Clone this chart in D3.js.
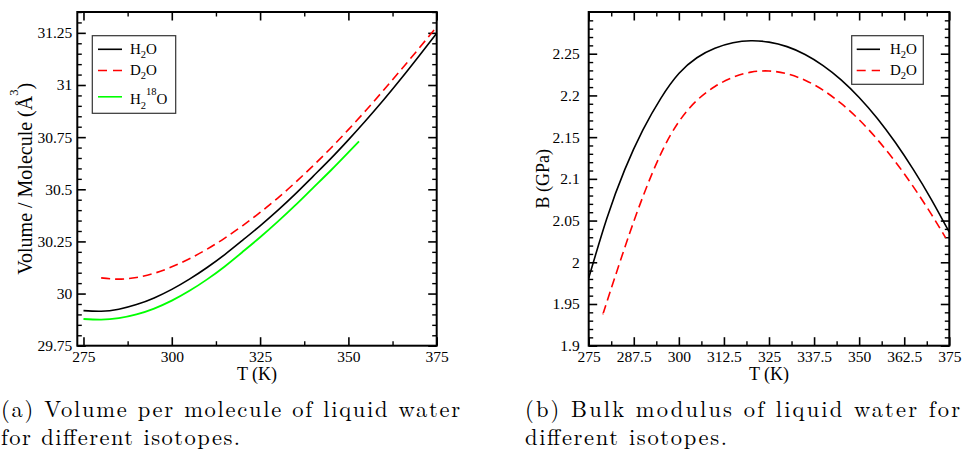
<!DOCTYPE html>
<html>
<head>
<meta charset="utf-8">
<script src="https://cdn.jsdelivr.net/npm/d3@7"></script>
<style>
  body { margin: 0; background: #fff; }
  svg { display: block; }
</style>
</head>
<body>
<svg id="fig" width="962" height="453"></svg>
<script>
// ---------- Panel (a): volume per molecule vs temperature ----------
const tempH2O_a = [275, 280, 285, 290, 295, 300, 305, 310, 315, 320, 325, 330, 335, 340, 345, 350, 355, 360, 365, 370, 375];
const volumeH2O = [29.918, 29.915, 29.925, 29.947, 29.979, 30.020, 30.069, 30.125, 30.187, 30.255, 30.325, 30.399, 30.478, 30.562, 30.647, 30.737, 30.831, 30.929, 31.032, 31.139, 31.248];

const tempD2O_a = [280, 285, 290, 295, 300, 305, 310, 315, 320, 325, 330, 335, 340, 345, 350, 355, 360, 365, 370, 375];
const volumeD2O = [30.075, 30.069, 30.077, 30.097, 30.128, 30.167, 30.213, 30.266, 30.325, 30.389, 30.458, 30.533, 30.613, 30.697, 30.786, 30.879, 30.976, 31.075, 31.176, 31.279];

const tempH218O = [275, 280, 285, 290, 295, 300, 305, 310, 315, 320, 325, 330, 335, 340, 345, 350, 353];
const volumeH218O = [29.878, 29.875, 29.882, 29.900, 29.928, 29.966, 30.013, 30.068, 30.130, 30.199, 30.270, 30.345, 30.424, 30.507, 30.590, 30.677, 30.730];

const xTicksA = [275, 300, 325, 350, 375];
const yTicksA = [29.75, 30, 30.25, 30.5, 30.75, 31, 31.25];

// ---------- Panel (b): bulk modulus vs temperature ----------
const tempH2O_b = [275, 280, 285, 290, 295, 300, 305, 310, 315, 320, 325, 330, 335, 340, 345, 350, 355, 360, 365, 370, 375];
const bulkH2O = [1.9810, 2.0522, 2.1110, 2.1583, 2.1965, 2.2262, 2.2452, 2.2565, 2.2631, 2.2655, 2.2639, 2.2585, 2.2491, 2.2358, 2.2187, 2.1976, 2.1727, 2.1438, 2.1113, 2.0755, 2.0360];

const tempD2O_b = [279, 280, 285, 290, 295, 300, 305, 310, 315, 320, 325, 330, 335, 340, 345, 350, 355, 360, 365, 370, 374];
const bulkD2O = [1.9383, 1.9519, 2.0176, 2.0783, 2.1300, 2.1685, 2.1940, 2.2107, 2.2217, 2.2279, 2.2293, 2.2259, 2.2182, 2.2063, 2.1904, 2.1708, 2.1474, 2.1207, 2.0907, 2.0577, 2.0292];

const xTicksB = [275, 287.5, 300, 312.5, 325, 337.5, 350, 362.5, 375];
const yTicksB = [1.9, 1.95, 2, 2.05, 2.1, 2.15, 2.2, 2.25];

// Legend entries: segments with optional sub/superscript
const legendA = [
  { segs: [["H"], ["2", "sub"], ["O"]], color: "#000000", dash: null },
  { segs: [["D"], ["2", "sub"], ["O"]], color: "#ff0000", dash: "9,6" },
  { segs: [["H"], ["2", "sub"], ["18", "sup"], ["O"]], color: "#00ff00", dash: null }
];
const legendB = [
  { segs: [["H"], ["2", "sub"], ["O"]], color: "#000000", dash: null },
  { segs: [["D"], ["2", "sub"], ["O"]], color: "#ff0000", dash: "9,6" }
];

const captionA = ["(a) Volume per molecule of liquid water", "for different isotopes."];
const captionB = ["(b) Bulk modulus of liquid water for", "different isotopes."];

const PLOT_FONT = '"Liberation Serif", "Nimbus Roman", "TeX Gyre Termes"';
const CAPTION_FONT = '"Latin Modern Roman", "CMU Serif", "Liberation Serif"';

const svg = d3.select("#fig");

// minor tick positions, skipping the major ones
function minorTicks(lo, hi, step, majorStep) {
  const out = [];
  const n = Math.round((hi - lo) / step);
  for (let i = 0; i <= n; i++) {
    const v = +(lo + i * step).toFixed(6);
    const r = v / majorStep;
    if (Math.abs(r - Math.round(r)) > 1e-6) out.push(v);
  }
  return out;
}

// text with subscript / superscript pieces
function writeRich(textSel, segs, base) {
  let shift = 0;
  segs.forEach(([t, kind]) => {
    const target = kind === "sub" ? base * 0.3 : kind === "sup" ? -base * 0.6 : 0;
    const ts = textSel.append("tspan").text(t).attr("dy", target - shift);
    if (kind) ts.style("font-size", (base * 0.7) + "px");
    shift = target;
  });
}

function panel(o) {
  const g = svg.append("g");
  const x = d3.scaleLinear().domain(o.xDomain).range([o.left, o.right]);
  const y = d3.scaleLinear().domain(o.yDomain).range([o.bottom, o.top]);
  const fmt = d => String(d);

  const axes = [
    [d3.axisBottom(x), o.xMajor, `translate(0,${o.bottom})`, true, o.xPad],
    [d3.axisTop(x), o.xMajor, `translate(0,${o.top})`, false, 0],
    [d3.axisLeft(y), o.yMajor, `translate(${o.left},0)`, true, o.yPad],
    [d3.axisRight(y), o.yMajor, `translate(${o.right},0)`, false, 0]
  ];
  axes.forEach(([ax, vals, tr, labels, pad]) => {
    const a = ax.tickValues(vals).tickSizeInner(-8.5).tickSizeOuter(0).tickPadding(pad)
      .tickFormat(labels ? fmt : "");
    const sel = g.append("g").attr("transform", tr).call(a);
    sel.select(".domain").remove();
    sel.selectAll(".tick line").attr("stroke", "#000").attr("stroke-width", 1.6);
    sel.selectAll(".tick text")
      .style("font-family", PLOT_FONT).style("font-size", "15.5px").attr("fill", "#000");
  });
  const minors = [
    [d3.axisBottom(x), o.xMinor, `translate(0,${o.bottom})`],
    [d3.axisTop(x), o.xMinor, `translate(0,${o.top})`],
    [d3.axisLeft(y), o.yMinor, `translate(${o.left},0)`],
    [d3.axisRight(y), o.yMinor, `translate(${o.right},0)`]
  ];
  minors.forEach(([ax, vals, tr]) => {
    const sel = g.append("g").attr("transform", tr)
      .call(ax.tickValues(vals).tickSizeInner(-4.5).tickSizeOuter(0).tickFormat(""));
    sel.select(".domain").remove();
    sel.selectAll(".tick line").attr("stroke", "#000").attr("stroke-width", 1.4);
  });

  // curves
  const line = d3.line().x(d => x(d[0])).y(d => y(d[1])).curve(d3.curveNatural);
  o.series.forEach(s => {
    g.append("path")
      .datum(d3.zip(s.t, s.v))
      .attr("d", line)
      .attr("fill", "none")
      .attr("stroke", s.color)
      .attr("stroke-width", s.width || 1.6)
      .attr("stroke-dasharray", s.dash);
  });

  // frame
  g.append("rect")
    .attr("x", o.left).attr("y", o.top)
    .attr("width", o.right - o.left).attr("height", o.bottom - o.top)
    .attr("fill", "none").attr("stroke", "#000").attr("stroke-width", 2);

  // x label
  g.append("text")
    .attr("x", (o.left + o.right) / 2).attr("y", o.xLabelY)
    .attr("text-anchor", "middle")
    .style("font-family", PLOT_FONT).style("font-size", "18px")
    .text("T (K)");

  // y label
  const yl = g.append("text")
    .attr("transform", `translate(${o.yLabelX},${(o.top + o.bottom) / 2}) rotate(-90)`)
    .attr("text-anchor", "middle")
    .style("font-family", PLOT_FONT).style("font-size", o.yLabelSize + "px");
  o.yLabel(yl);

  // legend
  const L = o.legend;
  g.append("rect")
    .attr("x", L.x0).attr("y", L.y0).attr("width", L.x1 - L.x0).attr("height", L.y1 - L.y0)
    .attr("fill", "#fff").attr("stroke", "#333").attr("stroke-width", 1.2);
  L.items.forEach((it, i) => {
    g.append("line")
      .attr("x1", L.lx0).attr("x2", L.lx1)
      .attr("y1", L.lineY[i]).attr("y2", L.lineY[i])
      .attr("stroke", it.color).attr("stroke-width", 1.6)
      .attr("stroke-dasharray", it.dash);
    const t = g.append("text").attr("x", L.tx).attr("y", L.textY[i])
      .style("font-family", PLOT_FONT).style("font-size", "15px");
    writeRich(t, it.segs, 15);
  });
}

panel({
  left: 77.3, right: 436.7, top: 12, bottom: 345.7,
  xDomain: [273.25, 375], yDomain: [29.75, 31.35],
  xMajor: xTicksA, yMajor: yTicksA,
  xMinor: [287.5, 312.5, 337.5, 362.5],
  yMinor: minorTicks(29.75, 31.35, 0.05, 0.25),
  xPad: 5, yPad: 5,
  xLabelY: 380,
  yLabelX: 31.5, yLabelSize: 20,
  yLabel: t => {
    t.append("tspan").text("Volume / Molecule (Å");
    t.append("tspan").style("font-size", "12.5px").attr("dy", -14).text("3");
    t.append("tspan").attr("dy", 14).text(")");
  },
  series: [
    { t: tempH2O_a, v: volumeH2O, color: "#000000" },
    { t: tempD2O_a, v: volumeD2O, color: "#ff0000", dash: "9,5" },
    { t: tempH218O, v: volumeH218O, color: "#00ff00", width: 1.8 }
  ],
  legend: {
    x0: 92.3, x1: 175.7, y0: 35.7, y1: 113.3,
    lx0: 98, lx1: 122, tx: 130,
    lineY: [49.3, 70.5, 96.8], textY: [53.5, 74.5, 104],
    items: legendA
  }
});

panel({
  left: 588.7, right: 949.3, top: 12, bottom: 345.7,
  xDomain: [275, 375], yDomain: [1.9, 2.3],
  xMajor: xTicksB, yMajor: yTicksB,
  xMinor: minorTicks(275, 375, 6.25, 12.5),
  yMinor: minorTicks(1.9, 2.3, 0.01, 0.05),
  xPad: 5, yPad: 9,
  xLabelY: 380,
  yLabelX: 549, yLabelSize: 18,
  yLabel: t => t.text("B (GPa)"),
  series: [
    { t: tempH2O_b, v: bulkH2O, color: "#000000" },
    { t: tempD2O_b, v: bulkD2O, color: "#ff0000", dash: "9,5" }
  ],
  legend: {
    x0: 851.7, x1: 923.3, y0: 35.7, y1: 84.3,
    lx0: 856.7, lx1: 880, tx: 890,
    lineY: [49.3, 70.5], textY: [53.5, 74.5],
    items: legendB
  }
});

// captions: one text block per panel, one tspan per line
function caption(lines, x, widths) {
  const t = svg.append("text")
    .style("font-family", CAPTION_FONT).style("font-size", "22.5px");
  lines.forEach((s, i) => {
    t.append("tspan")
      .attr("x", x).attr("y", 417 + i * 28)
      .attr("textLength", widths[i]).attr("lengthAdjust", "spacing")
      .text(s);
  });
}
caption(captionA, 1, [459, 239]);
caption(captionB, 525, [435, 202]);
</script>
</body>
</html>
